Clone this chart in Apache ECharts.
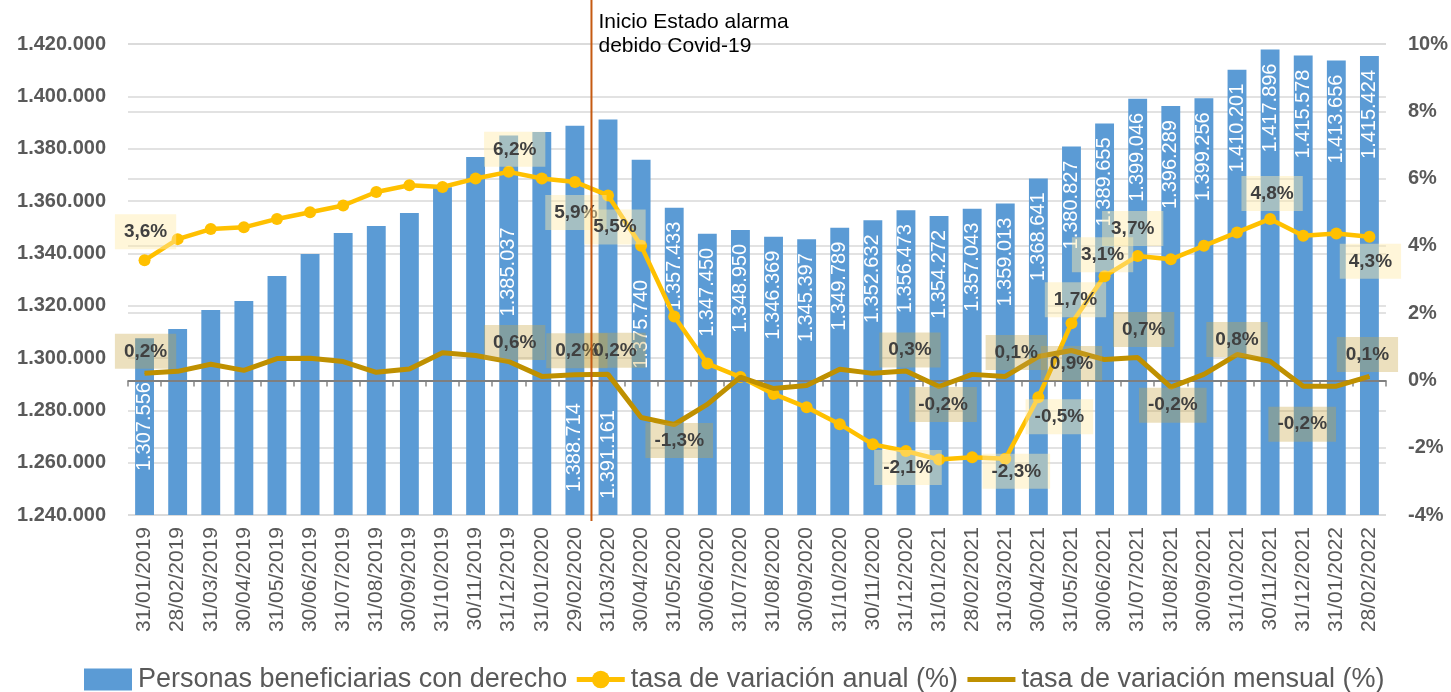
<!DOCTYPE html>
<html>
<head>
<meta charset="utf-8">
<script src="https://cdn.jsdelivr.net/npm/echarts@6/dist/echarts.min.js"></script>
<style>html,body{margin:0;padding:0;background:#fff}#c{width:1451px;height:692px}</style>
</head>
<body>
<div id="c"></div>
<script>
const categories = ['31/01/2019','28/02/2019','31/03/2019','30/04/2019','31/05/2019','30/06/2019','31/07/2019','31/08/2019','30/09/2019','31/10/2019','30/11/2019','31/12/2019','31/01/2020','29/02/2020','31/03/2020','30/04/2020','31/05/2020','30/06/2020','31/07/2020','31/08/2020','30/09/2020','31/10/2020','30/11/2020','31/12/2020','31/01/2021','28/02/2021','31/03/2021','30/04/2021','31/05/2021','30/06/2021','31/07/2021','31/08/2021','30/09/2021','31/10/2021','30/11/2021','31/12/2021','31/01/2022','28/02/2022'];
const beneficiarios = [1307556,1311100,1318300,1321800,1331300,1339700,1347800,1350400,1355400,1365300,1376800,1385037,1386350,1388714,1391161,1375740,1357433,1347450,1348950,1346369,1345397,1349789,1352632,1356473,1354272,1357043,1359013,1368641,1380827,1389655,1399046,1396289,1399256,1410201,1417896,1415578,1413656,1415424];
const tasaAnual = [3.57,4.2,4.5,4.55,4.8,5.0,5.2,5.6,5.8,5.75,6.0,6.2,6.0,5.9,5.5,4.0,1.9,0.5,0.1,-0.4,-0.8,-1.3,-1.9,-2.1,-2.35,-2.28,-2.33,-0.5,1.7,3.1,3.7,3.6,4.0,4.4,4.8,4.3,4.37,4.27];
const tasaMensual = [0.21,0.27,0.48,0.3,0.65,0.66,0.56,0.24,0.34,0.82,0.74,0.56,0.12,0.17,0.18,-1.1,-1.31,-0.71,0.1,-0.24,-0.15,0.33,0.21,0.28,-0.18,0.18,0.12,0.71,0.89,0.62,0.68,-0.2,0.18,0.77,0.57,-0.17,-0.17,0.12];
const leftTicks = {min:1240000, max:1420000, interval:20000};
const rightTicks = {min:-4, max:10, interval:2};
const seriesNames = ['Personas beneficiarias con derecho','tasa de variación anual (%)','tasa de variación mensual (%)'];
const annotationText = 'Inicio Estado alarma\ndebido Covid-19';
const annotationAfter = '29/02/2020';
const annotationBefore = '31/03/2020';

const FONT = "'Liberation Sans', Arial, sans-serif";
const fmtThousands = v => String(v).replace(/\B(?=(\d{3})+(?!\d))/g, '.');
const fmtPct = v => v.toFixed(1).replace('.', ',') + '%';

// label placement (layout only)
const annualLab = {0:['top',1,0],11:['top',6,6],13:['bottom',1,2],14:['bottom',7,3],23:['bottom',2,-12],26:['bottom',11,-16],27:['bottom',21,-9],28:['top',4,5],29:['top',-2,7],30:['top',-5,1],34:['top',2,3],37:['bottom',1,-4]};
const monthlyLab = {0:['top',1,1],11:['top',6,4],13:['top',2,-1],14:['top',7,-1],16:['bottom',5,-7],23:['top',4,2],24:['bottom',4,-5],26:['top',11,-1],28:['bottom',0,-10],30:['top',6,-5],31:['bottom',2,-5],33:['top',0,8],35:['bottom',-1,15],37:['top',-2,1]};
const barLab = i => {
  if (i === 0) return {show:true, position:'inside', align:'center', verticalAlign:'middle'};
  if (i === 11) return {show:true, position:'insideTop', distance:92, align:'right', verticalAlign:'middle'};
  if (i === 13) return {show:true, position:'insideBottom', distance:23, align:'left', verticalAlign:'middle'};
  if (i === 14) return {show:true, position:'insideBottom', distance:16, align:'left', verticalAlign:'middle'};
  if (i === 15) return {show:true, position:'insideTop', distance:120, align:'right', verticalAlign:'middle'};
  if (i >= 16) return {show:true, position:'insideTop', distance:14, align:'right', verticalAlign:'middle'};
  return {show:false};
};

const lineLabelBase = {
  fontFamily: FONT, fontSize: 19, fontWeight: 'bold', color: '#404040',
  lineHeight: 19, padding: [8, 9], formatter: p => fmtPct(p.value)
};
const mkLineData = (arr, lab, bg) => arr.map((v, i) => {
  const l = lab[i];
  if (!l) return {value: v, label: {show: false}};
  return {value: v, label: Object.assign({}, lineLabelBase, {show: true, position: l[0], offset: [l[1], l[2]], backgroundColor: bg})};
});

const chart = echarts.init(document.getElementById('c'), null, {renderer: 'canvas'});
const option = {
  animation: false,
  textStyle: {fontFamily: FONT},
  grid: {left: 128, right: 62, top: 44, bottom: 177, containLabel: false},
  legend: {
    left: 84, top: 666, padding: 0, itemWidth: 48, itemHeight: 22, itemGap: 7,
    textStyle: {fontFamily: FONT, fontSize: 27, color: '#595959', padding: [0, 0, 0, 1]},
    data: [
      {name: seriesNames[0], icon: 'rect'},
      {name: seriesNames[1], lineStyle: {width: 5}},
      {name: seriesNames[2], itemStyle: {opacity: 0}, lineStyle: {width: 5}}
    ]
  },
  xAxis: {
    type: 'category', data: categories, boundaryGap: true,
    axisLine: {lineStyle: {color: '#868686', width: 1.5}},
    axisTick: {show: true, length: 6, lineStyle: {color: '#868686', width: 1.5}},
    axisLabel: {rotate: 90, interval: 0, fontSize: 21, color: '#595959', margin: 12, fontFamily: FONT}
  },
  yAxis: [{
    type: 'value', min: leftTicks.min, max: leftTicks.max, interval: leftTicks.interval,
    axisLine: {show: false}, axisTick: {show: false},
    axisLabel: {formatter: fmtThousands, fontSize: 20, fontWeight: 'bold', color: '#595959', margin: 22, fontFamily: FONT},
    splitLine: {lineStyle: {color: '#D9D9D9', width: 1.5}}
  }, {
    type: 'value', min: rightTicks.min, max: rightTicks.max, interval: rightTicks.interval,
    axisLine: {show: false}, axisTick: {show: false},
    axisLabel: {formatter: v => v + '%', fontSize: 20, fontWeight: 'bold', color: '#595959', margin: 22, fontFamily: FONT},
    splitLine: {show: true, lineStyle: {color: '#D9D9D9', width: 1.5}}
  }],
  series: [{
    name: seriesNames[0], type: 'bar', yAxisIndex: 0, barWidth: '57%', z: 2,
    itemStyle: {color: '#5B9BD5'},
    data: beneficiarios.map((v, i) => ({value: v, label: Object.assign({rotate: 90, color: '#FFFFFF', fontSize: 20, fontFamily: FONT, formatter: p => fmtThousands(p.value)}, barLab(i))}))
  }, {
    name: 'cero', type: 'line', yAxisIndex: 1, data: [], z: 3, silent: true,
    markLine: {silent: true, symbol: ['none', 'none'], label: {show: false},
      lineStyle: {color: '#7F7F7F', width: 2, type: 'solid'}, data: [{yAxis: 0}], animation: false}
  }, {
    name: seriesNames[1], type: 'line', yAxisIndex: 1, z: 4,
    symbol: 'circle', symbolSize: 12, showSymbol: true,
    itemStyle: {color: '#FFC000'}, lineStyle: {color: '#FFC000', width: 4.5},
    data: mkLineData(tasaAnual, annualLab, 'rgba(255,235,170,0.45)')
  }, {
    name: seriesNames[2], type: 'line', yAxisIndex: 1, z: 5,
    symbol: 'circle', symbolSize: 1, showSymbol: true,
    itemStyle: {color: '#BF9000'}, lineStyle: {color: '#BF9000', width: 5},
    data: mkLineData(tasaMensual, monthlyLab, 'rgba(200,165,70,0.35)')
  }]
};
chart.setOption(option);

const xa = chart.convertToPixel({xAxisIndex: 0}, annotationAfter);
const xb = chart.convertToPixel({xAxisIndex: 0}, annotationBefore);
const xm = (xa + xb) / 2;
const yBottom = chart.convertToPixel({yAxisIndex: 0}, leftTicks.min);
chart.setOption({
  graphic: [{
    type: 'line', z: 10, silent: true,
    shape: {x1: xm, y1: 0, x2: xm, y2: yBottom + 6},
    style: {stroke: '#C55A11', lineWidth: 2}
  }, {
    type: 'text', z: 10, silent: true, left: xm + 7, top: 10,
    style: {text: annotationText, fontFamily: FONT, fontSize: 21, lineHeight: 24, fill: '#000000'}
  }]
});
</script>
</body>
</html>
